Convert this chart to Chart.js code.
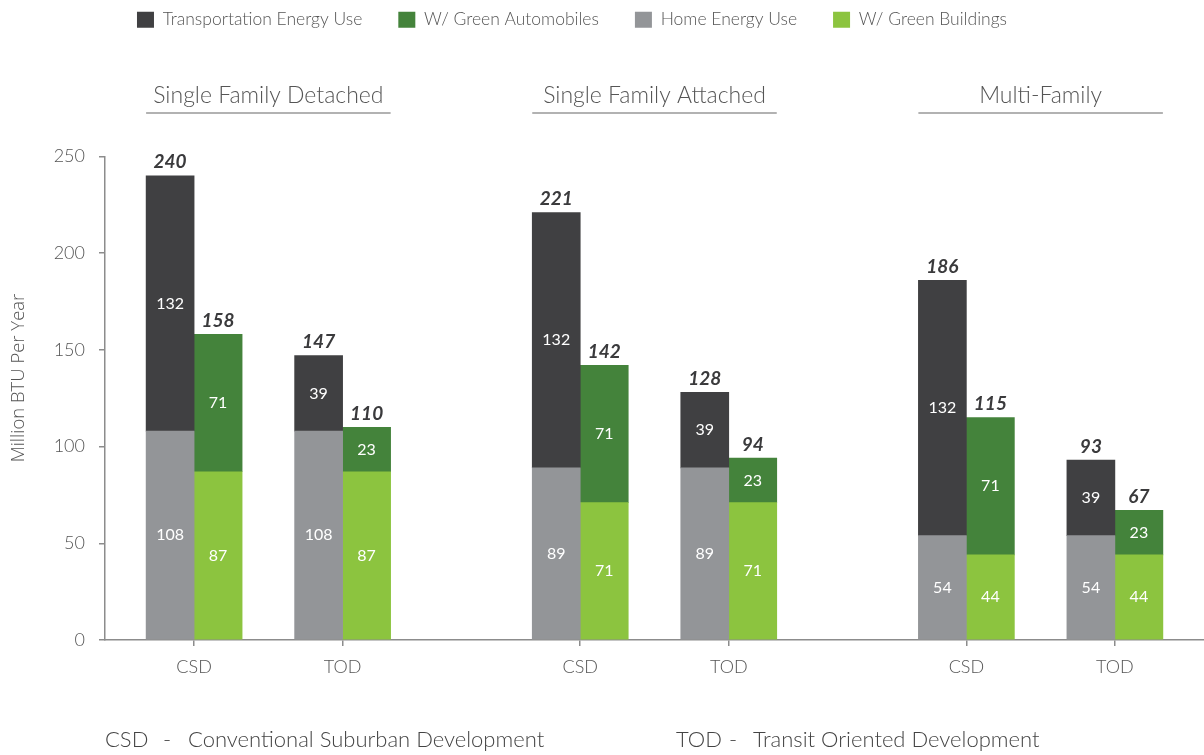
<!DOCTYPE html>
<html>
<head>
<meta charset="utf-8">
<script src="https://cdn.jsdelivr.net/npm/chart.js@4.4.1/dist/chart.umd.min.js"></script>
<style>
  html, body { margin: 0; background: #fff; }
  #wrap { width: 1204px; height: 755px; position: relative; }
</style>
</head>
<body>
<div id="wrap"><canvas id="chart"></canvas></div>
<script>
// Energy use per household, million BTU per year.
const groups = ['Single Family Detached', 'Single Family Attached', 'Multi-Family'];
const bars = ['CSD', 'TOD', 'CSD', 'TOD', 'CSD', 'TOD'];
const homeUse = [108, 108, 89, 89, 54, 54];
const transportUse = [132, 39, 132, 39, 132, 39];
const greenBuildings = [87, 87, 71, 71, 44, 44];
const greenAutos = [71, 23, 71, 23, 71, 23];
const yTicks = [0, 50, 100, 150, 200, 250];
const yTitle = 'Million BTU Per Year';
const notes = [['CSD', 'Conventional Suburban Development'], ['TOD', 'Transit Oriented Development']];

// category axis is cut into slots; blank slots make the gaps between groups
const SLOTS = 38;
const barSlot = [3, 8, 16, 21, 29, 34];

const AXIS = '#8c8c8c', TEXT = '#555';
const COL = { transport: '#404042', autos: '#44833b', home: '#939598', build: '#8cc43f' };

const labels = Array(SLOTS).fill('');
barSlot.forEach((s, i) => { labels[s] = bars[i]; });
const spread = (vals) => { const a = Array(SLOTS).fill(null); barSlot.forEach((s, i) => { a[s] = vals[i]; }); return a; };

Chart.defaults.font.family = 'Lato';
Chart.defaults.color = TEXT;

const ds = (label, vals, stack, col) => ({ label, data: spread(vals), stack, backgroundColor: col, borderWidth: 0, barThickness: 48 });
const legendRank = [2, 0, 3, 1];

const decor = {
  id: 'decor',
  afterLayout(chart) {
    // legend sits above the headings, left of centre, in the original
    const lg = chart.legend; lg.left -= 30; lg.right -= 30; lg.top -= 118; lg.bottom -= 118;
  },
  afterDatasetsDraw(chart) {
    const ctx = chart.ctx, x = chart.scales.x;
    ctx.save();
    ctx.textAlign = 'center';
    chart.data.datasets.forEach((d, di) => {
      const meta = chart.getDatasetMeta(di);
      meta.data.forEach((el, i) => {
        const v = d.data[i]; if (v == null) return;
        ctx.font = '400 16px Lato'; ctx.fillStyle = '#fff'; ctx.textBaseline = 'middle';
        ctx.fillText(v, el.x, (el.y + el.base) / 2);
        if (di === 1 || di === 3) {
          const tot = v + chart.data.datasets[di - 1].data[i];
          ctx.font = 'italic 700 19px Lato'; ctx.fillStyle = '#3a3a3c'; ctx.textBaseline = 'bottom';
          ctx.fillText(tot, el.x, el.y - 4);
        }
      });
    });
    // group headings with rule
    groups.forEach((g, gi) => {
      const x0 = x.getPixelForValue(barSlot[gi * 2]) - 48, x1 = x.getPixelForValue(barSlot[gi * 2 + 1]) + 48;
      ctx.font = '300 23px Lato'; ctx.fillStyle = TEXT; ctx.textBaseline = 'alphabetic';
      ctx.fillText(g, (x0 + x1) / 2, 103);
      ctx.strokeStyle = '#999'; ctx.lineWidth = 1.5;
      ctx.beginPath(); ctx.moveTo(x0, 113); ctx.lineTo(x1, 113); ctx.stroke();
    });
    // y title sits a little above the axis middle in the original
    ctx.save();
    ctx.translate(19, 378); ctx.rotate(-Math.PI / 2);
    ctx.font = '300 18.5px "Open Sans"'; ctx.fillStyle = TEXT; ctx.textBaseline = 'middle';
    ctx.fillText(yTitle, 0, 0);
    ctx.restore();
    // abbreviations
    ctx.font = '300 22px Lato'; ctx.fillStyle = '#444'; ctx.textAlign = 'left'; ctx.textBaseline = 'middle';
    [[105, 163, 188], [676, 729, 753]].forEach((p, i) => {
      ctx.fillText(notes[i][0], p[0], 740); ctx.fillText('-', p[1], 740); ctx.fillText(notes[i][1], p[2], 740);
    });
    ctx.restore();
  }
};

new Chart(document.getElementById('chart'), {
  type: 'bar',
  data: {
    labels,
    datasets: [
      ds('Home Energy Use', homeUse, 'now', COL.home),
      ds('Transportation Energy Use', transportUse, 'now', COL.transport),
      ds('W/ Green Buildings', greenBuildings, 'green', COL.build),
      ds('W/ Green Automobiles', greenAutos, 'green', COL.autos)
    ]
  },
  plugins: [decor],
  options: {
    responsive: true, maintainAspectRatio: false, animation: false,
    layout: { padding: { top: 93, left: 0, right: 0, bottom: 0 } },
    plugins: {
      tooltip: { enabled: false },
      legend: {
        position: 'top',
        labels: { boxWidth: 17, boxHeight: 16, padding: 36, color: TEXT, font: { size: 17.5, weight: '300' },
          sort: (a, b) => legendRank[a.datasetIndex] - legendRank[b.datasetIndex] }
      }
    },
    scales: {
      x: {
        stacked: true, offset: false,
        grid: { offset: false, drawOnChartArea: false, tickLength: 6, lineWidth: 1.5,
          color: (c) => (c.tick && c.tick.label ? AXIS : 'transparent') },
        border: { color: AXIS, width: 1.5 },
        ticks: { autoSkip: false, maxRotation: 0, padding: 10, color: TEXT, font: { size: 18, weight: '300' } },
        afterFit: (s) => { s.height = 115; s.paddingLeft = 0; s.paddingRight = 0; }
      },
      y: {
        stacked: true, min: 0, max: 250,
        afterBuildTicks: (s) => { s.ticks = yTicks.map((v) => ({ value: v })); },
        grid: { drawOnChartArea: false, tickLength: 6, color: AXIS, lineWidth: 1.5 },
        border: { color: AXIS, width: 1.5 },
        ticks: { padding: 14, color: TEXT, font: { size: 18, weight: '300' } },
        afterFit: (s) => { s.width = 105; }
      }
    }
  }
});
</script>
</body>
</html>
